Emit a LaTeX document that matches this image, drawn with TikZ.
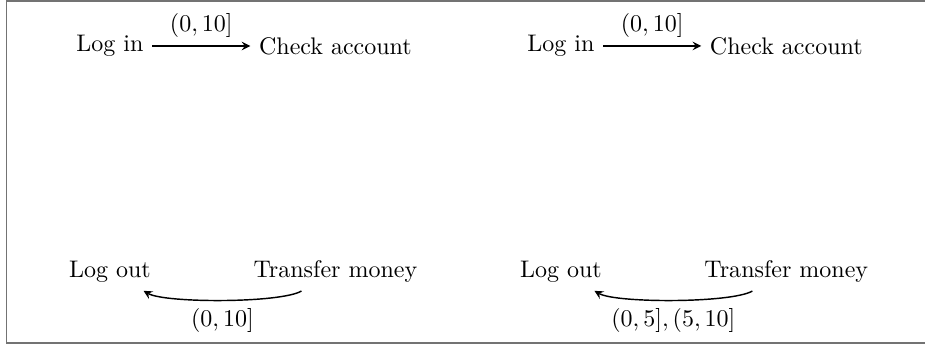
\documentclass[tikz,border=0pt]{standalone}
\usepackage{amsmath}
\usepackage{tikz}
\usetikzlibrary{positioning}

\begin{document}
\begin{tikzpicture}[auto, node distance=3.3cm, >=stealth, semithick,
  act node/.style={inner sep=3.33pt}]

\useasboundingbox (-1.61,0.673) rectangle (11.93,-4.377);
\draw[black!55, line width=0.6pt] (11.93,0.658) -| (-1.514,-4.347) -- (11.93,-4.347);

% one interval
\node[act node] (in1) {Log in};
\node[act node] (chk1) [right of=in1] {Check account};
\node[act node] (out1) [below of=in1] {Log out};
\node[act node] (tr1) [right of=out1] {Transfer money};

% split interval
\node[act node] (in2) at (6.6,0) {Log in};
\node[act node] (chk2) [right of=in2] {Check account};
\node[act node] (out2) [below of=in2] {Log out};
\node[act node] (tr2) [right of=out2] {Transfer money};

\path[->]
(in1) edge node [above] {$(0,10]$} (chk1)
(tr1) edge [bend left, looseness=0.4] node [below] {$(0,10]$} (out1)
(in2) edge node [above] {$(0,10]$} (chk2)
(tr2) edge [bend left, looseness=0.4] node [below] {$(0,5],(5,10]$} (out2)
;

\end{tikzpicture}
\end{document}
